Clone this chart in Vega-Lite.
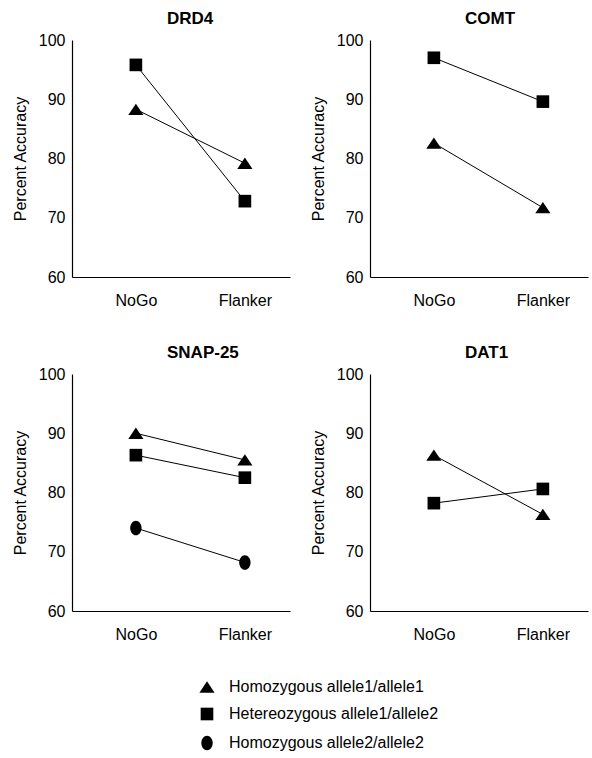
{
  "$schema": "https://vega.github.io/schema/vega-lite/v6.json",
  "padding": {"left": 12, "top": 10, "right": 2, "bottom": 2},
  "background": "white",
  "data": {"values": [
    {"gene": "DRD4", "task": "NoGo", "genotype": "Homozygous allele1/allele1", "accuracy": 88.3},
    {"gene": "DRD4", "task": "Flanker", "genotype": "Homozygous allele1/allele1", "accuracy": 79.2},
    {"gene": "DRD4", "task": "NoGo", "genotype": "Hetereozygous allele1/allele2", "accuracy": 95.8},
    {"gene": "DRD4", "task": "Flanker", "genotype": "Hetereozygous allele1/allele2", "accuracy": 72.8},
    {"gene": "COMT", "task": "NoGo", "genotype": "Homozygous allele1/allele1", "accuracy": 82.6},
    {"gene": "COMT", "task": "Flanker", "genotype": "Homozygous allele1/allele1", "accuracy": 71.7},
    {"gene": "COMT", "task": "NoGo", "genotype": "Hetereozygous allele1/allele2", "accuracy": 97.0},
    {"gene": "COMT", "task": "Flanker", "genotype": "Hetereozygous allele1/allele2", "accuracy": 89.6},
    {"gene": "SNAP-25", "task": "NoGo", "genotype": "Homozygous allele1/allele1", "accuracy": 90.0},
    {"gene": "SNAP-25", "task": "Flanker", "genotype": "Homozygous allele1/allele1", "accuracy": 85.5},
    {"gene": "SNAP-25", "task": "NoGo", "genotype": "Hetereozygous allele1/allele2", "accuracy": 86.3},
    {"gene": "SNAP-25", "task": "Flanker", "genotype": "Hetereozygous allele1/allele2", "accuracy": 82.5},
    {"gene": "SNAP-25", "task": "NoGo", "genotype": "Homozygous allele2/allele2", "accuracy": 74.0},
    {"gene": "SNAP-25", "task": "Flanker", "genotype": "Homozygous allele2/allele2", "accuracy": 68.2},
    {"gene": "DAT1", "task": "NoGo", "genotype": "Homozygous allele1/allele1", "accuracy": 86.3},
    {"gene": "DAT1", "task": "Flanker", "genotype": "Homozygous allele1/allele1", "accuracy": 76.3},
    {"gene": "DAT1", "task": "NoGo", "genotype": "Hetereozygous allele1/allele2", "accuracy": 78.2},
    {"gene": "DAT1", "task": "Flanker", "genotype": "Hetereozygous allele1/allele2", "accuracy": 80.6}
  ]},
  "columns": 2,
  "spacing": {"column": 20, "row": 36},
  "resolve": {"scale": {"shape": "shared"}, "legend": {"shape": "shared"}},
  "concat": [
    {
      "title": {"text": "DRD4"},
      "transform": [{"filter": "datum.gene == 'DRD4'"}],
      "width": 218, "height": 237,
      "encoding": {
        "x": {"field": "task", "type": "nominal", "sort": ["NoGo", "Flanker"], "scale": {"type": "point", "paddingOuter": 0.544, "align": 0.586}, "axis": {"title": null}},
        "y": {"field": "accuracy", "type": "quantitative", "scale": {"domain": [60, 100], "nice": false, "zero": false}, "axis": {"title": "Percent Accuracy", "values": [60, 70, 80, 90, 100]}}
      },
      "layer": [
        {"mark": {"type": "line", "color": "black", "strokeWidth": 1}, "encoding": {"detail": {"field": "genotype", "type": "nominal"}}},
        {"mark": {"type": "point", "filled": true, "color": "black", "opacity": 1, "size": 160}, "encoding": {"shape": {"field": "genotype", "type": "nominal"}}}
      ]
    },
    {
      "title": {"text": "COMT"},
      "transform": [{"filter": "datum.gene == 'COMT'"}],
      "width": 218, "height": 237,
      "encoding": {
        "x": {"field": "task", "type": "nominal", "sort": ["NoGo", "Flanker"], "scale": {"type": "point", "paddingOuter": 0.544, "align": 0.586}, "axis": {"title": null}},
        "y": {"field": "accuracy", "type": "quantitative", "scale": {"domain": [60, 100], "nice": false, "zero": false}, "axis": {"title": "Percent Accuracy", "values": [60, 70, 80, 90, 100]}}
      },
      "layer": [
        {"mark": {"type": "line", "color": "black", "strokeWidth": 1}, "encoding": {"detail": {"field": "genotype", "type": "nominal"}}},
        {"mark": {"type": "point", "filled": true, "color": "black", "opacity": 1, "size": 160}, "encoding": {"shape": {"field": "genotype", "type": "nominal"}}}
      ]
    },
    {
      "title": {"text": "SNAP-25"},
      "transform": [{"filter": "datum.gene == 'SNAP-25'"}],
      "width": 218, "height": 237,
      "encoding": {
        "x": {"field": "task", "type": "nominal", "sort": ["NoGo", "Flanker"], "scale": {"type": "point", "paddingOuter": 0.544, "align": 0.586}, "axis": {"title": null}},
        "y": {"field": "accuracy", "type": "quantitative", "scale": {"domain": [60, 100], "nice": false, "zero": false}, "axis": {"title": "Percent Accuracy", "values": [60, 70, 80, 90, 100]}}
      },
      "layer": [
        {"mark": {"type": "line", "color": "black", "strokeWidth": 1}, "encoding": {"detail": {"field": "genotype", "type": "nominal"}}},
        {"mark": {"type": "point", "filled": true, "color": "black", "opacity": 1, "size": 160}, "encoding": {"shape": {"field": "genotype", "type": "nominal"}}}
      ]
    },
    {
      "title": {"text": "DAT1"},
      "transform": [{"filter": "datum.gene == 'DAT1'"}],
      "width": 218, "height": 237,
      "encoding": {
        "x": {"field": "task", "type": "nominal", "sort": ["NoGo", "Flanker"], "scale": {"type": "point", "paddingOuter": 0.544, "align": 0.586}, "axis": {"title": null}},
        "y": {"field": "accuracy", "type": "quantitative", "scale": {"domain": [60, 100], "nice": false, "zero": false}, "axis": {"title": "Percent Accuracy", "values": [60, 70, 80, 90, 100]}}
      },
      "layer": [
        {"mark": {"type": "line", "color": "black", "strokeWidth": 1}, "encoding": {"detail": {"field": "genotype", "type": "nominal"}}},
        {"mark": {"type": "point", "filled": true, "color": "black", "opacity": 1, "size": 160}, "encoding": {"shape": {"field": "genotype", "type": "nominal",
          "scale": {"domain": ["Homozygous allele1/allele1", "Hetereozygous allele1/allele2", "Homozygous allele2/allele2"],
                    "range": ["M0,-0.9L1.2,0.9L-1.2,0.9Z", "square", "M0,-1.15A0.9,1.15 0 1,1 0,1.15A0.9,1.15 0 1,1 0,-1.15Z"]}}}}
      ]
    }
  ],
  "config": {
    "view": {"stroke": null},
    "font": "Liberation Sans",
    "title": {"fontSize": 17, "fontWeight": "bold", "color": "black", "font": "Liberation Sans", "anchor": "start", "frame": "group", "dx": 95, "baseline": "alphabetic", "offset": 4},
    "axis": {"domainColor": "black", "domainWidth": 1.2, "ticks": false, "grid": false, "labelColor": "black", "labelFontSize": 16, "titleFontSize": 16, "titleFontWeight": "normal", "titleColor": "black", "labelFont": "Liberation Sans", "titleFont": "Liberation Sans"},
    "axisX": {"labelAngle": 0, "labelPadding": 15},
    "axisY": {"labelPadding": 7, "titlePadding": 10},
    "legend": {"labelColor": "black", "labelFont": "Liberation Sans", "title": null, "orient": "none", "legendX": 127, "legendY": 639, "labelFontSize": 16, "labelLimit": 400, "symbolSize": 160, "symbolFillColor": "black", "symbolStrokeColor": "black", "rowPadding": 8, "labelOffset": 14}
  }
}
